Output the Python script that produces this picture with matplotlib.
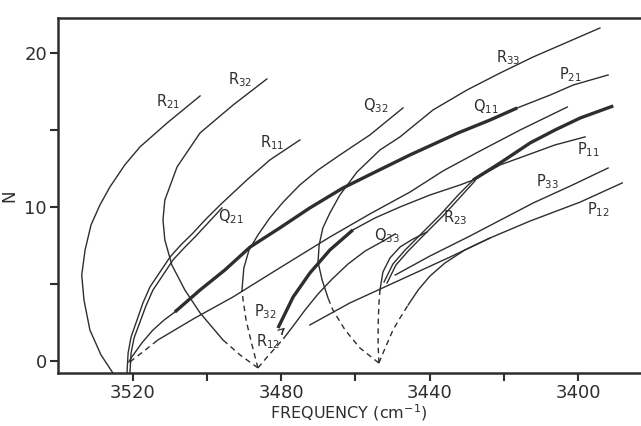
import matplotlib.pyplot as plt

plt.rcParams['mathtext.default'] = 'regular'
plt.rcParams['font.family'] = 'DejaVu Sans'

ink = '#2e2e2e'

# branch curves, frequency (cm-1) and N
r21_f = [3525.4, 3528.6, 3531.6, 3533.2, 3533.8, 3532.9, 3531.3, 3528.9, 3526.2, 3522.2, 3518.1, 3510.8, 3501.9]
r21_n = [-0.78, 0.39, 2.01, 3.96, 5.58, 7.21, 8.83, 10.13, 11.30, 12.73, 13.90, 15.45, 17.21]

r32_dash_f = [3486.3, 3491.1, 3495.7]
r32_dash_n = [-0.45, 0.39, 1.36]
r32_f = [3495.7, 3501.9, 3506.0, 3509.5, 3511.4, 3511.9, 3511.4, 3508.1, 3501.9, 3493.0, 3483.9]
r32_n = [1.36, 3.12, 4.61, 6.23, 7.86, 9.16, 10.45, 12.60, 14.81, 16.62, 18.31]

r11_f = [3521.6, 3521.3, 3520.5, 3518.9, 3517.3, 3515.4, 3512.7, 3510.0, 3507.1, 3503.8, 3500.3, 3496.5, 3489.3, 3483.1, 3475.0]
r11_n = [-0.78, 0.52, 1.56, 2.66, 3.77, 4.81, 5.78, 6.75, 7.53, 8.31, 9.22, 10.13, 11.75, 13.05, 14.35]

q21_f = [3520.8, 3520.5, 3519.7, 3518.1, 3516.5, 3514.6, 3511.9, 3509.2, 3506.2, 3503.0, 3499.5, 3496.0]
q21_n = [-0.78, 0.52, 1.49, 2.53, 3.57, 4.61, 5.58, 6.56, 7.34, 8.12, 9.03, 9.94]

q32_dash_f = [3486.3, 3487.9, 3489.5, 3490.3, 3490.6]
q32_dash_n = [-0.45, 1.04, 2.66, 3.96, 4.61]
q32_f = [3490.6, 3490.1, 3488.7, 3486.3, 3483.1, 3479.5, 3475.0, 3470.1, 3464.2, 3456.1, 3447.2]
q32_n = [4.61, 6.04, 7.21, 8.18, 9.29, 10.32, 11.43, 12.40, 13.38, 14.68, 16.43]

r33_dash_f = [3453.7, 3458.8, 3462.8, 3466.1, 3467.4]
r33_dash_n = [-0.13, 0.84, 2.01, 3.31, 4.09]
r33_f = [3467.4, 3469.0, 3470.1, 3469.8, 3468.8, 3466.9, 3464.2, 3459.6, 3453.4, 3448.0, 3439.1, 3429.9, 3421.0, 3412.1, 3394.1]
r33_n = [4.09, 5.26, 6.43, 7.53, 8.64, 9.61, 10.78, 12.27, 13.70, 14.55, 16.30, 17.60, 18.70, 19.74, 21.62]

q11_f = [3508.7, 3501.9, 3495.2, 3488.4, 3480.4, 3472.3, 3463.4, 3454.7, 3445.3, 3432.3, 3423.7, 3416.4]
q11_n = [3.18, 4.61, 5.91, 7.40, 8.64, 9.94, 11.23, 12.27, 13.38, 14.81, 15.65, 16.43]

p21_low_f = [3521.1, 3520.3, 3517.6, 3514.6, 3511.6, 3508.7]
p21_low_n = [-0.06, 0.26, 1.17, 2.01, 2.66, 3.18]
p21_f = [3416.4, 3407.5, 3401.3, 3391.9]
p21_n = [16.43, 17.27, 17.92, 18.57]

u1_dash_f = [3520.8, 3517.0, 3513.3]
u1_dash_n = [-0.06, 0.65, 1.36]
u1_f = [3513.3, 3503.3, 3493.0, 3482.2, 3466.9, 3456.1, 3445.3, 3436.4, 3426.4, 3415.6, 3402.9]
u1_n = [1.36, 2.79, 4.16, 5.78, 8.05, 9.55, 10.97, 12.34, 13.64, 15.00, 16.49]

p32_f = [3480.9, 3476.8, 3472.3, 3466.9, 3460.7]
p32_n = [2.14, 4.16, 5.71, 7.21, 8.51]
p32_mid_f = [3460.7, 3454.7, 3448.0, 3439.9, 3431.8, 3428.3]
p32_mid_n = [8.51, 9.29, 10.00, 10.78, 11.43, 11.75]
p32_top_f = [3428.3, 3421.0, 3412.9, 3406.2, 3399.4, 3390.5]
p32_top_n = [11.75, 12.86, 14.16, 15.00, 15.78, 16.56]

p11_f = [3428.3, 3421.0, 3412.9, 3406.2, 3398.1]
p11_n = [11.75, 12.73, 13.44, 14.03, 14.55]

r23_f = [3452.3, 3449.9, 3446.6, 3442.6, 3437.2, 3432.3, 3428.3]
r23_n = [5.13, 6.30, 7.21, 8.18, 9.48, 10.78, 11.75]
r23b_f = [3451.5, 3449.1, 3445.8, 3441.8, 3436.4, 3431.5, 3427.8]
r23b_n = [5.06, 6.23, 7.14, 8.12, 9.42, 10.71, 11.69]

q33_dash_f = [3453.7, 3453.9, 3453.9, 3453.7, 3453.4]
q33_dash_n = [-0.13, 1.04, 2.34, 3.64, 4.61]
q33_f = [3453.4, 3452.6, 3450.7, 3448.0, 3444.5, 3440.7]
q33_n = [4.61, 5.78, 6.69, 7.40, 7.92, 8.38]

r12_dash_f = [3486.3, 3483.6, 3480.9, 3479.3]
r12_dash_n = [-0.45, 0.32, 1.04, 1.49]
r12_f = [3479.3, 3476.8, 3473.6, 3470.1, 3466.3, 3462.0, 3457.4, 3452.0, 3449.3]
r12_n = [1.49, 2.27, 3.31, 4.35, 5.32, 6.30, 7.14, 7.86, 8.25]

p12_f = [3472.3, 3461.5, 3448.0, 3434.5, 3423.7, 3412.9, 3399.4, 3388.1]
p12_n = [2.34, 3.77, 5.26, 6.75, 7.99, 9.09, 10.32, 11.56]

u2_dash_f = [3453.7, 3452.0, 3449.9, 3448.0, 3445.8]
u2_dash_n = [-0.13, 0.84, 2.01, 2.79, 3.64]
u2_f = [3445.8, 3443.1, 3439.9, 3435.9, 3430.5, 3423.7]
u2_n = [3.64, 4.61, 5.52, 6.36, 7.21, 7.99]

p33_f = [3449.3, 3439.9, 3429.1, 3412.1, 3402.1, 3391.9]
p33_n = [5.58, 6.82, 8.12, 10.26, 11.36, 12.53]

label_text = ['R$_{21}$', 'R$_{32}$', 'R$_{11}$', 'Q$_{21}$', 'Q$_{32}$', 'R$_{33}$', 'P$_{21}$', 'Q$_{11}$',
              'P$_{11}$', 'P$_{33}$', 'P$_{12}$', 'R$_{23}$', 'Q$_{33}$', 'P$_{32}$', 'R$_{12}$']
label_f = [3510.6, 3491.1, 3482.5, 3493.6, 3454.5, 3418.9, 3402.1, 3424.8,
           3397.3, 3408.3, 3394.6, 3433.2, 3451.5, 3484.4, 3483.6]
label_n = [16.82, 18.25, 14.16, 9.35, 16.56, 19.68, 18.57, 16.49,
           13.70, 11.62, 9.81, 9.29, 8.12, 3.18, 1.23]

fig = plt.figure(figsize=(6.41, 4.26), dpi=100)
ax = fig.add_axes([58 / 641, 1 - 373 / 426, 582 / 641, 355 / 426])

thin = [(r21_f, r21_n), (r32_f, r32_n), (r11_f, r11_n), (q21_f, q21_n), (q32_f, q32_n),
        (r33_f, r33_n), (p21_low_f, p21_low_n), (p21_f, p21_n), (u1_f, u1_n), (p32_mid_f, p32_mid_n),
        (p11_f, p11_n), (r23_f, r23_n), (r23b_f, r23b_n), (q33_f, q33_n), (r12_f, r12_n),
        (p12_f, p12_n), (u2_f, u2_n), (p33_f, p33_n)]
dashed = [(r32_dash_f, r32_dash_n), (q32_dash_f, q32_dash_n), (r33_dash_f, r33_dash_n),
          (u1_dash_f, u1_dash_n), (q33_dash_f, q33_dash_n), (r12_dash_f, r12_dash_n),
          (u2_dash_f, u2_dash_n)]
thick = [(q11_f, q11_n), (p32_f, p32_n), (p32_top_f, p32_top_n)]

for f, n in thin:
    ax.plot(f, n, color=ink, lw=1.0, solid_joinstyle='round')
for f, n in dashed:
    ax.plot(f, n, color=ink, lw=1.0, ls=(0, (4, 3)))
for f, n in thick:
    ax.plot(f, n, color=ink, lw=2.4, solid_joinstyle='round', solid_capstyle='butt')

for t, f, n in zip(label_text, label_f, label_n):
    ax.text(f, n, t, fontsize=10.5, color=ink, ha='center', va='center')

# little arrow from the R12 label up to its line
ax.annotate('', xy=(3478.4, 2.27), xytext=(3479.6, 1.55),
            arrowprops=dict(arrowstyle='->', color=ink, lw=0.9, connectionstyle='arc3,rad=-0.4'))

ax.set_xlim(3540.2, 3383.3)
ax.set_ylim(-0.78, 22.27)
ax.set_xticks([3520, 3480, 3440, 3400])
ax.set_xticks([3500, 3460, 3420], minor=True)
ax.set_yticks([0, 10, 20])
ax.set_yticks([5, 15], minor=True)
ax.tick_params(which='both', direction='out', length=6, width=1.5, color=ink, labelcolor=ink,
               labelsize=13, pad=2)
for side in ['left', 'bottom', 'top']:
    ax.spines[side].set_linewidth(1.8)
    ax.spines[side].set_color(ink)
ax.spines['right'].set_visible(False)

ax.set_xlabel('FREQUENCY (cm$^{-1}$)', fontsize=11.5, color=ink, labelpad=0)
ax.set_ylabel('N', fontsize=12, color=ink, labelpad=4)

fig.savefig('out.png', dpi=100)
